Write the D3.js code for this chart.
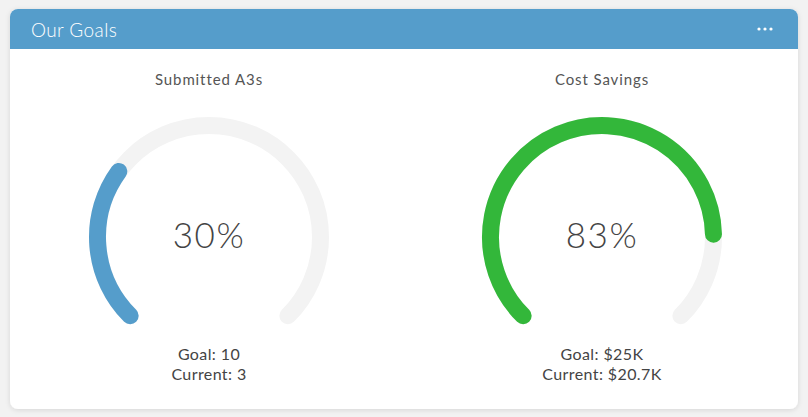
<!DOCTYPE html>
<html>
<head>
<meta charset="utf-8">
<script src="https://cdn.jsdelivr.net/npm/d3@7"></script>
<style>
  html, body { margin: 0; padding: 0; background: #f2f2f2; }
  svg { display: block; font-family: "Lato", "Open Sans", sans-serif; }
</style>
</head>
<body>
<div id="chart"></div>
<script>
// gauge data
var gaugeTitles = ["Submitted A3s", "Cost Savings"];
var goalValues = [10, 25000];
var currentValues = [3, 20700];
var goalLabels = ["10", "$25K"];
var currentLabels = ["3", "$20.7K"];
var gaugeColors = ["#559dcb", "#33b73a"];

function init() {
  var w = 808;
  var h = 417;

  var svg = d3
    .select("#chart")
    .append("svg")
    .attr("width", w)
    .attr("height", h);

  //drop shadow for the card
  var defs = svg.append("defs");
  var filter = defs.append("filter").attr("id", "shadow")
    .attr("x", "-5%").attr("y", "-5%").attr("width", "110%").attr("height", "115%");
  filter.append("feDropShadow")
    .attr("dx", 0).attr("dy", 1).attr("stdDeviation", 2.5)
    .attr("flood-color", "#000").attr("flood-opacity", 0.12);

  var card = { x: 10, y: 9, w: 788, h: 400, r: 8, header: 40 };

  //card body
  svg.append("rect")
    .attr("x", card.x).attr("y", card.y)
    .attr("width", card.w).attr("height", card.h)
    .attr("rx", card.r)
    .attr("fill", "#fff")
    .attr("filter", "url(#shadow)");

  //header with rounded top corners
  var hp = d3.path();
  hp.moveTo(card.x, card.y + card.header);
  hp.lineTo(card.x, card.y + card.r);
  hp.arcTo(card.x, card.y, card.x + card.r, card.y, card.r);
  hp.lineTo(card.x + card.w - card.r, card.y);
  hp.arcTo(card.x + card.w, card.y, card.x + card.w, card.y + card.r, card.r);
  hp.lineTo(card.x + card.w, card.y + card.header);
  hp.closePath();
  svg.append("path").attr("d", hp.toString()).attr("fill", "#559dcb");

  svg.append("text")
    .attr("x", 31).attr("y", 37)
    .style("font-size", "19px")
    .style("font-weight", 300)
    .style("letter-spacing", "0.4px")
    .style("fill", "#fff")
    .text("Our Goals");

  //menu dots
  svg.selectAll(".dot")
    .data([0, 1, 2])
    .enter()
    .append("circle")
    .attr("cx", function (d) { return 759 + d * 6; })
    .attr("cy", 29)
    .attr("r", 1.6)
    .attr("fill", "#fff");

  //angle scale for the gauges (270 degree sweep)
  var angle = d3.scaleLinear().domain([0, 1]).range([-0.75 * Math.PI, 0.75 * Math.PI]);
  var centerX = d3.scalePoint().domain(gaugeTitles).range([209, 602]);
  var cy = 237;
  var radius = 111.5;

  //centre line of the gauge, drawn as a stroke with round caps
  function arcLine(a0, a1) {
    var p = d3.path();
    p.arc(0, 0, radius, a0 - Math.PI / 2, a1 - Math.PI / 2, false);
    return p.toString();
  }

  gaugeTitles.forEach(function (title, i) {
    var pct = currentValues[i] / goalValues[i];
    var g = svg.append("g")
      .attr("transform", "translate(" + centerX(title) + "," + cy + ")");

    //background track
    g.append("path")
      .attr("d", arcLine(angle(0), angle(1)))
      .attr("fill", "none")
      .attr("stroke", "#f3f3f3")
      .attr("stroke-width", 17)
      .attr("stroke-linecap", "round");

    //value arc
    g.append("path")
      .attr("d", arcLine(angle(0), angle(pct)))
      .attr("fill", "none")
      .attr("stroke", gaugeColors[i])
      .attr("stroke-width", 17)
      .attr("stroke-linecap", "round");

    //title
    g.append("text")
      .attr("y", 85 - cy)
      .attr("text-anchor", "middle")
      .style("font-size", "15px")
      .style("letter-spacing", "0.9px")
      .style("fill", "#555")
      .text(title);

    //percentage
    g.append("text")
      .attr("y", 11)
      .attr("text-anchor", "middle")
      .style("font-size", "35px")
      .style("font-weight", 300)
      .style("letter-spacing", "1.5px")
      .style("fill", "#444")
      .text(d3.format(".0%")(pct));

    //goal + current
    g.append("text")
      .attr("y", 360 - cy)
      .attr("text-anchor", "middle")
      .style("font-size", "16px")
      .style("letter-spacing", "0.4px")
      .style("fill", "#444")
      .text("Goal: " + goalLabels[i]);

    g.append("text")
      .attr("y", 380 - cy)
      .attr("text-anchor", "middle")
      .style("font-size", "16px")
      .style("letter-spacing", "0.4px")
      .style("fill", "#444")
      .text("Current: " + currentLabels[i]);
  });
}

window.onload = init;
</script>
</body>
</html>
